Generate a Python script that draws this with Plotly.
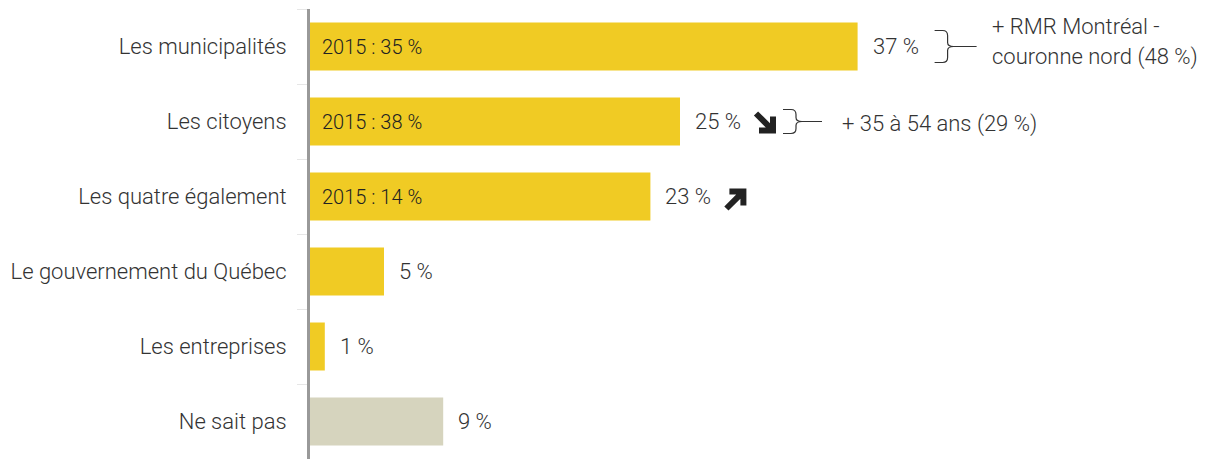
import plotly.graph_objects as go

categories = ["Les municipalités", "Les citoyens", "Les quatre également",
              "Le gouvernement du Québec", "Les entreprises", "Ne sait pas"]
values = [37, 25, 23, 5, 1, 9]
value_labels = ["37 %", "25 %", "23 %", "5 %", "1 %", "9 %"]
labels_2015 = ["2015 : 35 %", "2015 : 38 %", "2015 : 14 %", "", "", ""]
bar_colors = ["#F0CB24"] * 5 + ["#D6D4BE"]
trend = [None, "down", "up", None, None, None]
callouts = {0: ["+ RMR Montréal -", "couronne nord (48 %)"], 1: ["+ 35 à 54 ans (29 %)"]}

FONT = "Roboto"
TXT = "#333333"
PXU = 14.8  # pixels per percent
PLOT_W = 1213 - 302

fig = go.Figure()
fig.add_trace(go.Bar(
    y=categories, x=values, orientation="h",
    marker=dict(color=bar_colors, line=dict(width=0)),
    hoverinfo="skip", width=0.64,
))

annotations = []
shapes = []


def arrow_path(up):
    # heavy arrow pointing up-right, 20x20 px box, thickness ~6
    pts = [(3, 20), (20, 20), (20, 3), (14, 3), (14, 9.8), (2.1, -2.1),
           (-2.1, 2.1), (9.8, 14), (3, 14)]
    if up:
        pts = [(x, y - 12) for x, y in pts]
    else:
        pts = [(x, 8 - y) for x, y in pts]
    return "M " + " L ".join(f"{x:.2f},{y:.2f}" for x, y in pts) + " Z"


for i, (c, v, lab) in enumerate(zip(categories, values, value_labels)):
    annotations.append(dict(x=v, y=c, xref="x", yref="y", text=lab, showarrow=False,
                            xanchor="left", xshift=13,
                            font=dict(family=FONT, size=22, color=TXT, weight=300)))
    if labels_2015[i]:
        annotations.append(dict(x=0, y=c, xref="x", yref="y", text=labels_2015[i],
                                showarrow=False, xanchor="left", xshift=10,
                                font=dict(family=FONT, size=20, color="#222222", weight=300)))
    if trend[i]:
        up = trend[i] == "up"
        ax0 = v + 76 / PXU
        shapes.append(dict(type="path", xref="x", yref="y", xsizemode="pixel",
                           ysizemode="pixel", xanchor=ax0, yanchor=i,
                           path=arrow_path(up),
                           fillcolor="#222222", line=dict(width=0)))

for i, lines in callouts.items():
    v = values[i]
    c = categories[i]
    if i == 0:
        off, h, tail, txo = 77, 16, 42, 132
        ys = [20, -10]
    else:
        off, h, tail, txo = 103, 12, 39, 160
        ys = [-2]
    path = (f"M 0,{h} L 8,{h} Q 13,{h} 13,{h-5} L 13,4 Q 13,0 19,0 Q 13,0 13,-4 "
            f"L 13,{-h+5} Q 13,{-h} 8,{-h} L 0,{-h} M 19,0 L {tail},0")
    shapes.append(dict(type="path", xref="x", yref="y", xsizemode="pixel", ysizemode="pixel",
                       xanchor=v + off / PXU, yanchor=i, path=path,
                       line=dict(color="#333333", width=1.2)))
    for ln, ysh in zip(lines, ys):
        annotations.append(dict(x=v, y=c, xref="x", yref="y", text=ln, showarrow=False,
                                xanchor="left", align="left", xshift=txo, yshift=ysh,
                                font=dict(family=FONT, size=22, color=TXT, weight=300)))

fig.update_layout(
    width=1213, height=459,
    margin=dict(l=302, r=0, t=1, b=8),
    plot_bgcolor="white", paper_bgcolor="white",
    showlegend=False, bargap=0.36,
    xaxis=dict(range=[0, PLOT_W / PXU], visible=False, showgrid=False, zeroline=False),
    yaxis=dict(autorange="reversed", showgrid=False, zeroline=False,
               showline=True, linecolor="#999999", linewidth=3,
               ticks="outside", tickson="boundaries", ticklen=10, tickcolor="#E6E6E6",
               tickfont=dict(family=FONT, size=22, color=TXT, weight=300),
               ticklabelstandoff=16),
    annotations=annotations, shapes=shapes,
)
fig.write_html("out.html")
